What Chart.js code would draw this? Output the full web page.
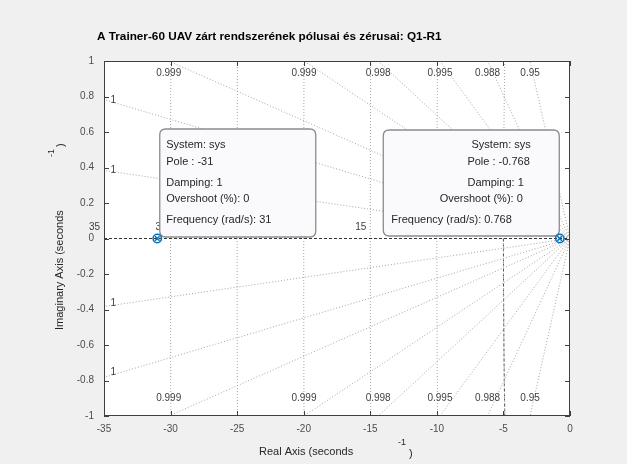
<!DOCTYPE html>
<html><head><meta charset="utf-8">
<script src="https://cdn.jsdelivr.net/npm/chart.js@4/dist/chart.umd.min.js"></script>
<style>html,body{margin:0;padding:0;background:#f0f0f0;}#wrap{width:627px;height:464px;position:relative}</style>
</head><body><div id="wrap"><canvas id="c" width="627" height="464"></canvas></div>
<script>
const titleText = 'A Trainer-60 UAV zárt rendszerének pólusai és zérusai: Q1-R1';
const xTickValues = [-35, -30, -25, -20, -15, -10, -5, 0];
const yTickValues = [-1, -0.8, -0.6, -0.4, -0.2, 0, 0.2, 0.4, 0.6, 0.8, 1];
const poleRe = [-31, -0.768];
const poleIm = [0, 0];
const dampingValues = [0.99994, 0.99975, 0.99945, 0.99875, 0.9976, 0.9948, 0.9872, 0.9487];
const dampingLabels = ['1', '1', '0.999', '0.999', '0.998', '0.995', '0.988', '0.95'];
const frequencyValues = [5, 10, 15, 20, 25, 30, 35];
const frequencyLabels = ['5', '10', '15', '20', '25', '30', '35'];
const tipLines = [
  ['System: sys', 'Pole : -31', 'Damping: 1', 'Overshoot (%): 0', 'Frequency (rad/s): 31'],
  ['System: sys', 'Pole : -0.768', 'Damping: 1', 'Overshoot (%): 0', 'Frequency (rad/s): 0.768']
];

const X_MIN = -35, X_MAX = 0, Y_MIN = -1, Y_MAX = 1;
const FONT = '"Liberation Sans", Arial, Helvetica, sans-serif';
const GRID_COLOR = '#a6a6a6';
const AXIS_COLOR = '#404040';

function slopeOf(z) { return Math.sqrt(1 - z * z) / z; }

const datasets = [];
// pole markers (drawn last -> low indices)
datasets.push({
  label: 'poleCross', data: poleRe.map((r, i) => ({ x: r, y: poleIm[i] })),
  pointStyle: 'crossRot', pointRadius: 3.2, borderColor: '#0072BD', borderWidth: 1.5,
  backgroundColor: 'transparent', showLine: false
});
datasets.push({
  label: 'poleCircle', data: poleRe.map((r, i) => ({ x: r, y: poleIm[i] })),
  pointStyle: 'circle', pointRadius: 4.2, borderColor: '#0072BD', borderWidth: 1.5,
  backgroundColor: 'rgba(255,255,255,0)', showLine: false
});
// zero line
datasets.push({
  label: 'zeroLine', data: [{ x: X_MIN, y: 0 }, { x: X_MAX, y: 0 }],
  showLine: true, borderColor: '#333333', borderWidth: 1, borderDash: [3, 2],
  pointRadius: 0, fill: false
});
// damping rays
dampingValues.forEach((z) => {
  const s = slopeOf(z);
  const L = Math.min(-X_MIN, Y_MAX / s);
  [1, -1].forEach(sg => {
    datasets.push({
      label: 'ray', data: [{ x: 0, y: 0 }, { x: -L, y: sg * L * s }],
      showLine: true, borderColor: GRID_COLOR, borderWidth: 1, borderDash: [1, 2],
      pointRadius: 0, fill: false
    });
  });
});
// frequency circles (visible part)
frequencyValues.forEach((w) => {
  const pts = [];
  for (let k = 0; k <= 8; k++) {
    const yy = Y_MIN + k * (Y_MAX - Y_MIN) / 8;
    pts.push({ x: -Math.sqrt(w * w - yy * yy), y: yy });
  }
  datasets.push({
    label: 'circle', data: pts, showLine: true, borderColor: GRID_COLOR, borderWidth: 1,
    borderDash: [1, 2], pointRadius: 0, fill: false
  });
});
// darker lower part of the 5 rad/s circle
{
  const w = frequencyValues[0];
  const pts = [];
  for (let k = 0; k <= 4; k++) {
    const yy = -k / 4;
    pts.push({ x: -Math.sqrt(w * w - yy * yy), y: yy });
  }
  datasets.push({
    label: 'circleDark', data: pts, showLine: true, borderColor: '#555555', borderWidth: 1,
    borderDash: [3, 2], pointRadius: 0, fill: false
  });
}

function roundRect(ctx, x, y, w, h, r) {
  ctx.beginPath();
  ctx.moveTo(x + r, y);
  ctx.lineTo(x + w - r, y);
  ctx.quadraticCurveTo(x + w, y, x + w, y + r);
  ctx.lineTo(x + w, y + h - r);
  ctx.quadraticCurveTo(x + w, y + h, x + w - r, y + h);
  ctx.lineTo(x + r, y + h);
  ctx.quadraticCurveTo(x, y + h, x, y + h - r);
  ctx.lineTo(x, y + r);
  ctx.quadraticCurveTo(x, y, x + r, y);
  ctx.closePath();
}

const decor = {
  id: 'decor',
  beforeDraw(chart) {
    const { ctx, chartArea: a } = chart;
    ctx.save();
    ctx.fillStyle = '#f0f0f0';
    ctx.fillRect(0, 0, chart.width, chart.height);
    ctx.fillStyle = '#ffffff';
    ctx.fillRect(a.left, a.top, a.right - a.left, a.bottom - a.top);
    ctx.restore();
  },
  afterDatasetDraw(chart, args) {
    if (args.meta.label !== 'zeroLine') return;
    const { ctx, chartArea: a } = chart;
    const xs = chart.scales.x, ys = chart.scales.y;
    ctx.save();
    ctx.fillStyle = '#404040';
    ctx.font = '10px ' + FONT;
    ctx.textBaseline = 'middle';
    // damping labels
    dampingValues.forEach((z, i) => {
      const s = slopeOf(z);
      if (Y_MAX / s < -X_MIN) {
        const xv = -Y_MAX / s;
        ctx.textAlign = 'center';
        ctx.fillText(dampingLabels[i], xs.getPixelForValue(xv), ys.getPixelForValue(0.93));
        ctx.fillText(dampingLabels[i], xs.getPixelForValue(xv), ys.getPixelForValue(-0.9));
      } else {
        const xv = X_MIN + 0.7;
        ctx.textAlign = 'center';
        ctx.fillText(dampingLabels[i], xs.getPixelForValue(xv), ys.getPixelForValue(-xv * s) - 2);
        ctx.fillText(dampingLabels[i], xs.getPixelForValue(xv), ys.getPixelForValue(xv * s) - 2);
      }
    });
    // frequency labels
    ctx.textAlign = 'right';
    frequencyValues.forEach((w, i) => {
      ctx.fillText(frequencyLabels[i], xs.getPixelForValue(-w) - 4, ys.getPixelForValue(0) - 11);
    });
    // data tips
    const boxes = [
      { w: 156, h: 108, dx: 2, dy: -2, anchor: 'left', xs: [7, 7, 7, 7, 7], align: 'left', ys: [16, 33, 54, 70, 91] },
      { w: 176, h: 106, dx: -1, dy: -3, anchor: 'right', xs: [148, 147, 141, 140, 129], align: 'right', ys: [15, 32, 53, 69, 90] }
    ];
    boxes.forEach((b, i) => {
      const px = xs.getPixelForValue(poleRe[i]);
      const py = ys.getPixelForValue(poleIm[i]);
      const left = b.anchor === 'left' ? px + b.dx : px + b.dx - b.w;
      const top = py + b.dy - b.h;
      roundRect(ctx, left + 0.5, top + 0.5, b.w, b.h, 6);
      ctx.fillStyle = '#fafafd';
      ctx.fill();
      ctx.strokeStyle = '#8c8c8c';
      ctx.lineWidth = 1.3;
      ctx.stroke();
      ctx.fillStyle = '#262626';
      ctx.font = '11px ' + FONT;
      ctx.textAlign = b.align;
      tipLines[i].forEach((t, k) => ctx.fillText(t, left + b.xs[k], top + b.ys[k]));
    });
    ctx.restore();
  },
  afterDraw(chart) {
    const { ctx, chartArea: a } = chart;
    const xs = chart.scales.x, ys = chart.scales.y;
    ctx.save();
    ctx.strokeStyle = AXIS_COLOR;
    ctx.lineWidth = 1;
    ctx.strokeRect(a.left + 0.5, a.top + 0.5, a.right - a.left - 1, a.bottom - a.top - 1);
    ctx.beginPath();
    const TL = 5;
    xTickValues.forEach(v => {
      const p = Math.round(xs.getPixelForValue(v)) + 0.5;
      ctx.moveTo(p, a.bottom); ctx.lineTo(p, a.bottom - TL);
      ctx.moveTo(p, a.top); ctx.lineTo(p, a.top + TL);
    });
    yTickValues.forEach(v => {
      const p = Math.round(ys.getPixelForValue(v)) + 0.5;
      ctx.moveTo(a.left, p); ctx.lineTo(a.left + TL, p);
      ctx.moveTo(a.right, p); ctx.lineTo(a.right - TL, p);
    });
    ctx.stroke();
    // title
    ctx.fillStyle = '#000000';
    ctx.font = 'bold 11.75px ' + FONT;
    ctx.textAlign = 'left';
    ctx.textBaseline = 'middle';
    ctx.fillText(titleText, 97, 37);
    // x axis title
    ctx.fillStyle = '#262626';
    ctx.font = '11px ' + FONT;
    ctx.fillText('Real Axis (seconds', 259, 452);
    ctx.font = '9px ' + FONT;
    ctx.fillText('-1', 398, 443);
    ctx.font = '11px ' + FONT;
    ctx.fillText(')', 409, 454);
    // y axis title
    ctx.save();
    ctx.translate(60, 330);
    ctx.rotate(-Math.PI / 2);
    ctx.font = '11px ' + FONT;
    ctx.fillText('Imaginary Axis (seconds', 0, 0);
    ctx.restore();
    ctx.save();
    ctx.translate(52, 157);
    ctx.rotate(-Math.PI / 2);
    ctx.font = '9px ' + FONT;
    ctx.fillText('-1', 0, 0);
    ctx.restore();
    ctx.save();
    ctx.translate(61, 147);
    ctx.rotate(-Math.PI / 2);
    ctx.font = '11px ' + FONT;
    ctx.fillText(')', 0, 0);
    ctx.restore();
    ctx.restore();
  }
};

new Chart(document.getElementById('c'), {
  type: 'scatter',
  data: { datasets },
  options: {
    responsive: false,
    animation: false,
    devicePixelRatio: 1,
    layout: { padding: { top: 61, right: 57, left: 0, bottom: 0 } },
    plugins: { legend: { display: false }, tooltip: { enabled: false }, title: { display: false } },
    scales: {
      x: {
        type: 'linear', min: X_MIN, max: X_MAX,
        grid: { display: false, drawTicks: false },
        border: { display: false },
        afterBuildTicks: s => { s.ticks = xTickValues.map(v => ({ value: v })); },
        afterFit: s => { s.height = 48; },
        ticks: { color: '#4d4d4d', font: { size: 10, family: FONT }, padding: 7, maxRotation: 0, autoSkip: false,
          callback: v => String(v) }
      },
      y: {
        type: 'linear', min: Y_MIN, max: Y_MAX,
        grid: { display: false, drawTicks: false },
        border: { display: false },
        afterBuildTicks: s => { s.ticks = yTickValues.map(v => ({ value: v })); },
        afterFit: s => { s.width = 104; },
        ticks: { color: '#4d4d4d', font: { size: 10, family: FONT }, padding: 10, autoSkip: false,
          callback: v => String(Math.round(v * 10) / 10) }
      }
    }
  },
  plugins: [decor]
});
</script>
</body></html>
